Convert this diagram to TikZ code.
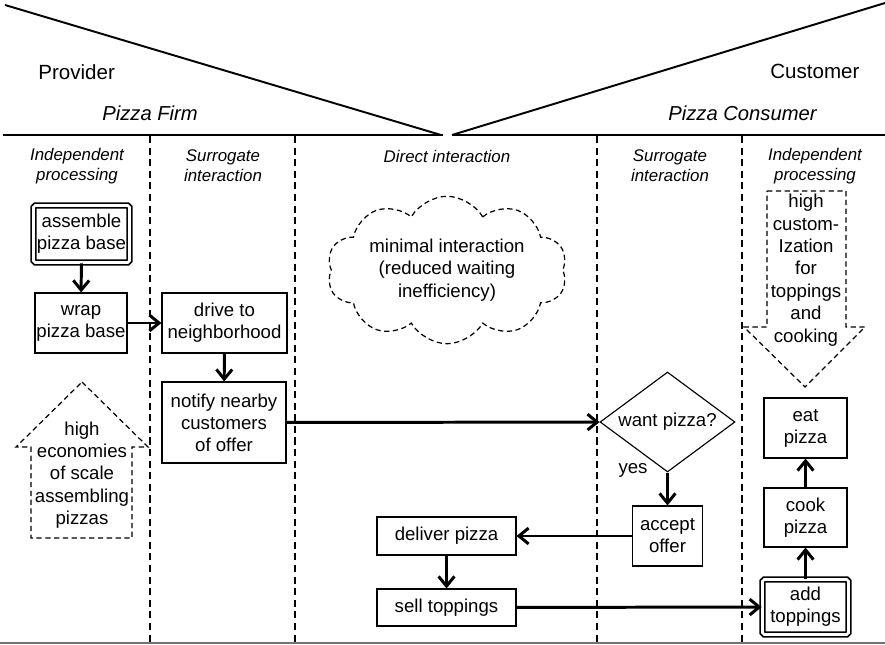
\documentclass[tikz,border=0pt]{standalone}
\usepackage{fontspec}
\setmainfont{Liberation Sans}
\usetikzlibrary{arrows.meta,shapes.geometric,shapes.symbols}
\begin{document}
\begin{tikzpicture}[x=0.02cm,y=-0.02cm,
  box/.style={draw, line width=0.65pt, inner sep=0pt, align=center, font=\fontsize{10.6}{12.5}\selectfont},
  dbox/.style={box, double, double distance=1.5pt, line width=1pt, rounded corners=1pt},
  flow/.style={line width=1.7pt, -{Straight Barb[length=5.5pt,width=9pt]}},
  lane/.style={dash pattern=on 4pt off 2.6pt, line width=0.85pt},
  blk/.style={dash pattern=on 3pt off 2pt, line width=0.7pt},
  hdr/.style={font=\fontsize{9.6}{11.4}\selectfont\itshape, align=center},
  big/.style={font=\fontsize{11.7}{14}\selectfont},
  bigit/.style={font=\fontsize{11.5}{14}\selectfont\itshape},
  txt/.style={align=center, inner sep=0pt, font=\fontsize{10.6}{12.8}\selectfont}]
\useasboundingbox (0,0) rectangle (885,645);

% frame lines
\draw[line width=1.1pt] (5,5) -- (441,135);
\draw[line width=1.1pt] (452,135) -- (885,3);
\draw[line width=1.1pt] (3,135) -- (443,135);
\draw[line width=1.1pt] (452,135) -- (885,135);
\draw[line width=0.7pt, black!55] (0,643) -- (885,643);

% lanes
\foreach \lx in {150,295,597,742}
  \draw[lane] (\lx,136) -- (\lx,642);

% titles
\node[big, anchor=base west, inner sep=0pt] (prov) at (38,80) {Provider};
\node[big, anchor=base west, inner sep=0pt] (cust) at (770,79) {Customer};
\node[bigit, anchor=base west, inner sep=0pt] (firm) at (102,121) {Pizza Firm};
\node[bigit, anchor=base west, inner sep=0pt] (cons) at (668,121) {Pizza Consumer};

% headers
\node[hdr] (h1) at (77,166) {Independent\\processing};
\node[hdr] (h2) at (223,166) {Surrogate\\interaction};
\node[hdr] (h3) at (447,156) {Direct interaction};
\node[hdr] (h4) at (670,166) {Surrogate\\interaction};
\node[hdr] (h5) at (815,166) {Independent\\processing};

% cloud
\node[cloud, draw, blk, cloud puffs=10, cloud puff arc=120, cloud ignores aspect,
      minimum width=4.8cm, minimum height=2.95cm, txt] (cloud) at (447,270)
      {minimal interaction\\(reduced waiting\\inefficiency)};

% block arrows
\draw[blk] (82,382) -- (148,447) -- (132,447) -- (132,538) -- (31,538) -- (31,447) -- (16,447) -- cycle;
\node[txt, font=\fontsize{10.6}{12.75}\selectfont] (econ) at (82,475) {high\\economies\\of scale\\assembling\\pizzas};
\draw[blk] (767,191) -- (846,191) -- (846,327) -- (865,327) -- (805,387) -- (744,327) -- (767,327) -- cycle;
\node[txt, font=\fontsize{10.6}{12.75}\selectfont] (cust2) at (806,270) {high\\custom-\\Ization\\for\\toppings\\and\\cooking};

% process nodes
\node[dbox, minimum width=1.92cm, minimum height=1.14cm] (asm) at (81.5,234) {assemble\\pizza base};
\node[box, minimum width=1.84cm, minimum height=1.2cm] (wrap) at (81,323) {wrap\\pizza base};
\node[box, minimum width=2.5cm, minimum height=1.2cm] (drive) at (224.5,323) {drive to\\neighborhood};
\node[box, minimum width=2.48cm, minimum height=1.62cm] (notify) at (224,422.5) {notify nearby\\customers\\of offer};
\node[box, diamond, shape aspect=1.45, minimum width=2.7cm, minimum height=2cm] (want) at (667.5,422) {want pizza?};
\node[box, minimum width=1.4cm, minimum height=1.2cm] (accept) at (667.5,536) {accept\\offer};
\node[box, minimum width=2.78cm, minimum height=0.76cm] (deliver) at (446.5,536) {deliver pizza};
\node[box, minimum width=2.78cm, minimum height=0.74cm] (sell) at (446.5,607.5) {sell toppings};
\node[dbox, minimum width=1.72cm, minimum height=1.1cm] (add) at (805.5,607) {add\\toppings};
\node[box, minimum width=1.66cm, minimum height=1.18cm] (cook) at (805.5,517.5) {cook\\pizza};
\node[box, minimum width=1.66cm, minimum height=1.2cm] (eat) at (805.5,428) {eat\\pizza};
\node[txt] (yes) at (633,470) {yes};

% connectors
\draw[flow] (asm) -- (wrap);
\draw[flow] (wrap) -- (drive);
\draw[flow] (drive) -- (notify);
\draw[flow] (notify) -- (want);
\draw[flow] (want) -- (accept);
\draw[flow] (accept) -- (deliver);
\draw[flow] (deliver) -- (sell);
\draw[flow] (sell) -- (add);
\draw[flow] (add) -- (cook);
\draw[flow] (cook) -- (eat);
\end{tikzpicture}
\end{document}
